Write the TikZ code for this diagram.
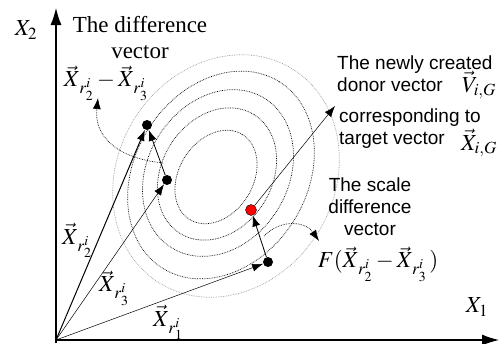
\documentclass[tikz,border=0pt]{standalone}
\usepackage{mathptmx}
\usepackage[no-math]{fontspec}
\setmainfont{Liberation Serif}
\setsansfont{Liberation Sans}
\usetikzlibrary{arrows.meta}
\tikzset{
  contour/.style={densely dotted, line width=0.7pt},
  vecline/.style={->, line width=0.5pt},
  axis/.style={-{Latex[length=17pt,width=11pt]}, line width=1.1pt},
  hint/.style={->, densely dotted, line width=0.7pt},
  dot/.style={circle, fill=black, inner sep=0pt, minimum size=10pt},
  serlab/.style={font=\fontsize{23}{26}\selectfont, align=center, inner sep=0pt},
  sanslab/.style={font=\sffamily\fontsize{19}{22}\selectfont, align=left, inner sep=0pt},
  mathlab/.style={font=\fontsize{23}{26}\selectfont, inner sep=0pt}
}
\begin{document}
\begin{tikzpicture}[x=1pt, y=-1pt, >={Latex[length=11pt,width=8pt]}]
	\useasboundingbox (0,0) rectangle (503,343);
	% level curves of the objective
	\foreach \cx/\cy/\a/\b/\c in {216/177/50/37/black, 217/174/70/55/black,
		218/173/88/70/black, 221/175/110/86/black, 226/176/126/108/black!40}
	{
		\draw[contour, \c, rotate around={58:(\cx,\cy)}] (\cx,\cy) ellipse ({\a} and {\b});
	}
	% axes
	\coordinate (O) at (56,340);
	\coordinate (ybot) at (56,343);
	\coordinate (yend) at (56,8);
	\coordinate (xend) at (499,340);
	\draw[axis] (ybot) -- (yend);
	\draw[axis] (O) -- (xend);
	\node[mathlab] (x1lab) at (477,307) {$X_1$};
	\node[mathlab] (x2lab) at (26,30) {$X_2$};
	% population members and donor
	\node[dot] (pA) at (147,125) {};
	\node[dot] (pB) at (167,180) {};
	\node[dot] (pC) at (268,262) {};
	\node[dot, fill=red, draw=black, line width=0.4pt, minimum size=11pt] (pV) at (251,210) {};
	\coordinate (vtip) at (335,106);
	\draw[->, line width=1pt] (O) -- (pA);
	\draw[vecline] (O) -- (pB);
	\draw[vecline] (O) -- (pC);
	\draw[vecline, line width=0.8pt] (pB) -- (pA);
	\draw[vecline, line width=0.8pt] (pC) -- (pV);
	\draw[vecline] (pV) -- (vtip);
	% labels
	\node[mathlab] (r2lab) at (77,240) {$\vec{X}_{\,r_2^i}$};
	\node[mathlab] (r3lab) at (114,288) {$\vec{X}_{\,r_3^i}$};
	\node[mathlab] (r1lab) at (168,322) {$\vec{X}_{\,r_1^i}$};
	\node[serlab] (difftitle) at (140,38) {The difference\\vector};
	\node[mathlab] (difflab) at (106,83) {$\vec{X}_{\,r_2^i}-\vec{X}_{\,r_3^i}$};
	\node[sanslab, anchor=west] (donor) at (337,74) {The newly created\\donor vector};
	\node[mathlab] (vlab) at (479,85) {$\vec{V}_{i,G}$};
	\node[sanslab, anchor=west] (corr) at (339,129) {corresponding to\\target vector};
	\node[mathlab] (xlab) at (479,143) {$\vec{X}_{i,G}$};
	\node[sanslab, align=center] (scale) at (370,207) {The scale\\difference\\vector};
	\node[mathlab] (flab) at (378,264) {$F(\vec{X}_{\,r_2^i}-\vec{X}_{\,r_3^i}\,)$};
	% pointers to the labels
	\coordinate (dfrom) at (163,163);
	\coordinate (dto) at (98,98);
	\coordinate (ffrom) at (264,236);
	\coordinate (fto) at (319,241);
	\draw[hint] (dfrom) .. controls (115,158) and (94,135) .. (dto);
	\draw[hint] (ffrom) .. controls (282,218) and (306,222) .. (fto);
\end{tikzpicture}
\end{document}
